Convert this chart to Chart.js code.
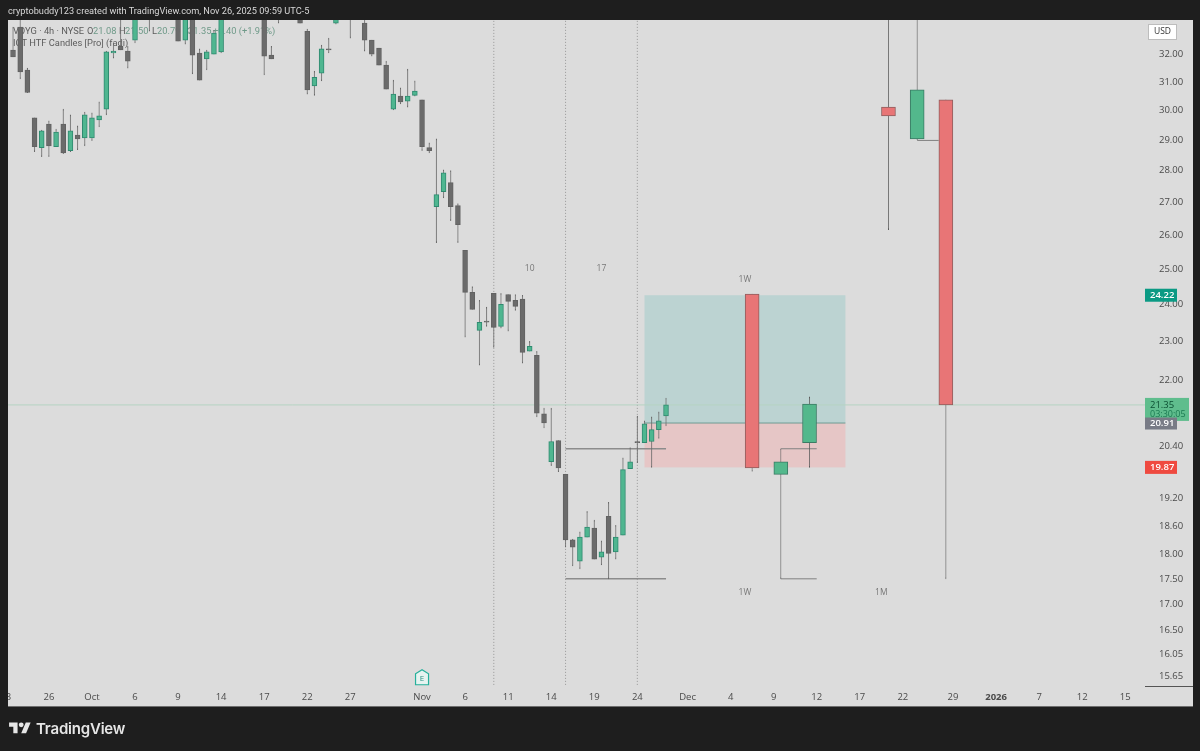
<!DOCTYPE html>
<html>
<head>
<meta charset="utf-8">
<title>VOYG 4h</title>
<script src="https://cdn.jsdelivr.net/npm/chart.js@4"></script>
<style>
    html, body { margin: 0; padding: 0; background: #1e1e1e; width: 1200px; height: 751px; overflow: hidden; }
    canvas { position: absolute; left: 0; top: 0; }
    .frame { position: absolute; background: #1e1e1e; }
    #header { position: absolute; left: 8px; top: 0; height: 20px; color: #d8d8d8; font: 9.2px/22px Roboto, sans-serif; white-space: nowrap; }
    #logo { position: absolute; left: 9px; top: 720px; }
    #brand { position: absolute; left: 36px; top: 718px; color: #e6e6e6; font: 600 15px/22px Inter, sans-serif; letter-spacing: -0.2px; }
</style>
</head>
<body>
<canvas id="chart" width="1200" height="751"></canvas>
<div class="frame" style="left:0;top:0;width:8px;height:751px"></div>
<div id="header">cryptobuddy123 created with TradingView.com, Nov 26, 2025 09:59 UTC-5</div>
<svg id="logo" width="22" height="17" viewBox="0 0 36 28" fill="#e6e6e6">
    <path d="M14 22H7V11H0V4h14v18zM28 22h-8l7.5-18h8L28 22z"/><circle cx="20" cy="8" r="4"/>
</svg>
<div id="brand">TradingView</div>
<script>
// 4h candles, one entry per bar, null = bar sits above the visible range
const opens = [32.11,32.97,31.38,29.70,28.70,29.49,28.73,29.49,28.60,29.12,29.02,29.02,29.63,30.00,32.00,32.25,32.07,32.48,null,33.90,null,null,null,33.70,32.48,33.60,32.00,31.78,31.96,32.04,null,null,null,null,null,33.60,31.92,33.60,null,null,33.70,32.81,30.81,31.27,32.15,33.12,null,33.70,null,33.12,32.48,32.18,31.56,30.00,30.45,30.28,30.48,30.32,28.70,26.82,27.28,27.57,26.85,25.50,24.30,23.26,23.51,24.27,23.37,24.24,24.08,24.11,22.71,22.60,21.13,20.00,20.49,19.71,18.28,17.84,18.34,18.53,17.92,18.78,18.03,18.38,19.84,20.47,20.44,20.47,20.75,21.08];
const highs = [32.97,33.60,31.45,29.70,29.29,29.60,29.32,30.00,29.80,29.43,29.90,29.87,30.25,32.07,32.37,33.50,32.25,33.70,null,34.00,null,null,null,33.90,33.80,33.80,32.15,32.11,32.85,33.80,null,null,null,null,null,33.80,32.25,33.80,null,null,33.90,32.89,31.34,32.29,32.55,33.70,null,33.90,null,33.50,32.48,32.18,31.70,31.02,30.74,31.41,30.99,30.32,28.86,28.99,27.98,27.95,26.91,25.50,24.46,24.08,23.89,24.27,24.27,24.24,24.24,24.22,22.97,22.71,21.27,21.27,20.49,19.71,18.30,18.45,18.89,18.70,18.26,19.09,18.59,20.09,20.33,21.08,20.96,21.06,21.18,21.52];
const lows = [31.86,31.06,30.57,28.57,28.40,28.40,28.73,28.50,28.57,28.63,28.76,28.93,29.39,29.80,31.81,32.11,31.45,32.37,null,32.81,null,null,null,32.44,32.33,31.24,31.02,31.38,31.96,32.00,null,null,null,null,null,31.20,31.78,33.12,null,null,33.12,30.52,30.48,30.99,32.00,33.08,null,32.55,null,32.07,31.88,31.56,30.70,29.97,30.18,30.07,30.45,28.60,28.53,25.73,27.09,26.39,25.73,23.08,23.83,22.35,23.37,22.81,23.32,23.24,23.80,22.40,22.71,21.06,20.79,19.91,19.77,18.13,17.74,17.68,18.34,17.88,17.76,17.48,17.88,18.38,19.84,19.98,20.44,19.87,20.54,20.84];
const closes = [31.86,31.31,30.58,28.73,29.26,28.76,29.22,28.53,29.26,28.99,29.80,29.70,29.77,32.04,32.07,32.11,31.70,33.50,null,33.50,null,null,null,32.44,33.60,31.92,31.02,32.04,32.74,33.60,null,null,null,null,null,31.88,31.78,33.40,null,null,33.12,30.67,31.12,32.15,32.11,33.50,null,33.50,null,32.48,31.96,31.56,30.70,30.52,30.25,30.45,30.63,28.73,28.60,27.19,27.88,26.82,26.27,24.30,23.83,23.48,23.48,23.34,23.97,24.05,23.91,22.68,22.84,21.15,20.91,20.47,19.86,18.28,18.13,18.34,18.55,17.88,18.03,18.00,18.34,19.82,20.00,20.44,20.89,20.75,20.96,21.35];

// higher timeframe candles on the right side
const htfSlots = [103, 107, 111, 122, 126, 130];
const htfOpens = [24.25, 19.71, 20.44, 30.07, 28.99, 30.32];
const htfHighs = [24.25, 20.30, 21.55, 34.00, 34.00, 30.32];
const htfLows = [19.78, 17.48, 19.87, 26.12, 28.96, 17.48];
const htfCloses = [19.86, 20.00, 21.37, 29.77, 30.67, 21.35];

const priceTicks = [32, 31, 30, 29, 28, 27, 26, 25, 24, 23, 22, 20.4, 19.2, 18.6, 18, 17.5, 17, 16.5, 16.05, 15.65];
const timeSlots = [-1, 5, 11, 17, 23, 29, 35, 41, 47, 57, 63, 69, 75, 81, 87, 94, 100, 106, 112, 118, 124, 131, 137, 143, 149, 155];
const timeLabels = ['23', '26', 'Oct', '6', '9', '14', '17', '22', '27', 'Nov', '6', '11', '14', '19', '24', 'Dec', '4', '9', '12', '17', '22', '29', '2026', '7', '12', '15'];

const sessionSlots = [67, 77, 87];
const lastPrice = 21.35;
// [from slot, to slot, price]
const levelFrom = [77, 77, 107, 107, 126];
const levelTo = [91, 91, 112, 112, 129];
const levelPrice = [20.30, 17.48, 20.30, 17.48, 28.94];

const zoneFrom = 88, zoneTo = 116;
const zoneTop = 24.22, zoneMid = 20.91, zoneBottom = 19.87;

const noteTexts = ['10', '17', '1W', '1W', '1M'];
const noteSlots = [72, 82, 102, 102, 121];
const notePrices = [24.97, 24.97, 24.66, 17.20, 17.20];

const tagPrices = [24.22, 20.91, 19.87];
const tagTexts = ['24.22', '20.91', '19.87'];
const tagColors = ['#0b9a84', '#787b86', '#ef4a40'];

const GRAY = '#6b6b6b';
const GREEN = '#4fb690';
const GREEN_EDGE = '#2f8a70';

const slots = opens.map((v, i) => i).filter(i => opens[i] !== null);
const isUp = i => closes[i] >= opens[i];

function segment(from, to, price, color, width) {
    return {
        type: 'line',
        data: [{ x: from, y: price }, { x: to, y: price }],
        borderColor: color,
        borderWidth: width,
        pointRadius: 0,
        order: 5,
    };
}

function candleBars(list, color, edge, thickness, order) {
    return {
        type: 'bar',
        data: list,
        backgroundColor: color,
        borderColor: edge,
        borderWidth: 1,
        borderSkipped: false,
        barThickness: thickness,
        grouped: false,
        order: order,
    };
}

const datasets = [];

sessionSlots.forEach(s => {
    datasets.push({
        type: 'line',
        data: [{ x: s, y: 15 }, { x: s, y: 34 }],
        borderColor: '#979797',
        borderWidth: 1,
        borderDash: [1, 2],
        pointRadius: 0,
        order: 6,
    });
});
datasets.push(segment(-0.7, 157.75, lastPrice, '#b5d4c3', 1));
levelFrom.forEach((f, i) => {
    const faint = i < 2;
    datasets.push(segment(f, levelTo[i], levelPrice[i], faint ? '#8c8c8c' : '#808080', faint ? 1.5 : 1));
});

// wicks first, bodies on top
datasets.push(candleBars(slots.map(i => ({ x: i, y: [lows[i], highs[i]] })), GRAY, GRAY, 0.6, 4));
datasets.push(candleBars(slots.filter(i => !isUp(i)).map(i => ({ x: i, y: [opens[i], closes[i]] })), GRAY, '#626262', 4.9, 3));
datasets.push(candleBars(slots.filter(isUp).map(i => ({ x: i, y: [opens[i], closes[i]] })), GREEN, GREEN_EDGE, 4.9, 3));
datasets.push(candleBars(htfSlots.map((s, i) => ({ x: s, y: [htfLows[i], htfHighs[i]] })), '#5c5c5c', '#5c5c5c', 0.4, 2));
datasets.push(candleBars(htfSlots.map((s, i) => ({ x: s, y: [htfOpens[i], htfCloses[i]] })).filter(b => b.y[1] < b.y[0]), '#e87576', '#8f5f5f', 14, 1));
datasets.push(candleBars(htfSlots.map((s, i) => ({ x: s, y: [htfOpens[i], htfCloses[i]] })).filter(b => b.y[1] >= b.y[0]), '#53b88c', '#3b7b64', 14, 1));

const backdrop = {
    id: 'backdrop',
    beforeDraw(chart) {
        const { ctx, chartArea } = chart;
        ctx.save();
        ctx.fillStyle = '#dcdcdc';
        ctx.fillRect(8, 20, 1185, 687);
        ctx.fillStyle = '#6e6e6e';
        ctx.fillRect(8, 706, 1185, 1);
        ctx.fillStyle = '#555';
        ctx.fillRect(chartArea.right, chartArea.bottom, 48, 1);
        ctx.restore();
    },
    beforeDatasetsDraw(chart) {
        const { ctx, scales: { x, y } } = chart;
        const left = x.getPixelForValue(zoneFrom), right = x.getPixelForValue(zoneTo);
        const top = y.getPixelForValue(zoneTop), mid = y.getPixelForValue(zoneMid), bottom = y.getPixelForValue(zoneBottom);
        ctx.save();
        ctx.fillStyle = '#bcd3d2';
        ctx.fillRect(left, top, right - left, mid - top);
        ctx.fillStyle = '#e6c6c6';
        ctx.fillRect(left, mid, right - left, bottom - mid);
        ctx.fillStyle = '#6f9c93';
        ctx.fillRect(left, mid - 0.5, right - left, 1);

        // status lines sit under the candles
        ctx.textBaseline = 'middle';
        ctx.font = '9.3px Roboto, sans-serif';
        const dark = '#5c5c5c', soft = '#6f9a89';
        const row = [['VOYG · 4h · NYSE', 13, dark], ['O', 87, dark], ['21.08', 93, soft], ['H', 119, dark], ['21.50', 125, soft],
            ['L', 152, dark], ['20.79', 157, soft], ['C', 183, dark], ['21.35', 188, soft], ['+0.40 (+1.91%)', 213, soft]];
        row.forEach(r => {
            ctx.fillStyle = r[2];
            ctx.fillText(r[0], r[1], 32);
        });
        ctx.fillStyle = dark;
        ctx.fillText('ICT HTF Candles [Pro] (fadi)', 13, 44);

        // notes over the zones
        ctx.fillStyle = '#777';
        ctx.font = '8.5px "Open Sans", sans-serif';
        ctx.textAlign = 'center';
        noteTexts.forEach((t, i) => {
            ctx.fillText(t, x.getPixelForValue(noteSlots[i]), y.getPixelForValue(notePrices[i]));
        });
        ctx.restore();
    },
    afterDraw(chart) {
        const { ctx, chartArea, scales: { x, y } } = chart;
        const axisX = chartArea.right;
        ctx.save();
        ctx.textBaseline = 'middle';

        ctx.fillStyle = '#fff';
        ctx.strokeStyle = '#bdbdbd';
        ctx.fillRect(1148, 24, 29, 16);
        ctx.strokeRect(1148.5, 24.5, 28, 15);
        ctx.fillStyle = '#333';
        ctx.font = '8.5px "Open Sans", sans-serif';
        ctx.fillText('USD', 1154, 32);

        ctx.font = '600 9.5px "Open Sans", sans-serif';
        tagPrices.forEach((p, i) => {
            const py = y.getPixelForValue(p);
            ctx.fillStyle = tagColors[i];
            ctx.fillRect(axisX, py - 6.5, 32, 13);
            ctx.fillStyle = '#fff';
            ctx.fillText(tagTexts[i], axisX + 5, py);
        });

        const ly = y.getPixelForValue(lastPrice);
        ctx.fillStyle = '#5fbd8d';
        ctx.fillRect(axisX, ly - 7, 44, 23);
        ctx.fillStyle = '#0c4f33';
        ctx.font = '9.5px "Open Sans", sans-serif';
        ctx.fillText('21.35', axisX + 5, ly);
        ctx.fillStyle = '#1c7a52';
        ctx.font = '9px "Open Sans", sans-serif';
        ctx.fillText('03:30:05', axisX + 5, ly + 10);
        const gy = y.getPixelForValue(tagPrices[1]);
        ctx.fillStyle = tagColors[1];
        ctx.fillRect(axisX, gy - 5.5, 32, 11);
        ctx.fillStyle = '#fff';
        ctx.font = '600 9.5px "Open Sans", sans-serif';
        ctx.fillText(tagTexts[1], axisX + 5, gy);

        // earnings flag
        const ex = x.getPixelForValue(57), ey = y.getPixelForValue(15.6);
        ctx.fillStyle = '#e6f3f0';
        ctx.strokeStyle = '#25b09b';
        ctx.lineWidth = 1.2;
        ctx.beginPath();
        ctx.moveTo(ex - 6.5, ey - 4);
        ctx.lineTo(ex, ey - 8);
        ctx.lineTo(ex + 6.5, ey - 4);
        ctx.lineTo(ex + 6.5, ey + 7);
        ctx.lineTo(ex - 6.5, ey + 7);
        ctx.closePath();
        ctx.fill();
        ctx.stroke();
        ctx.fillStyle = '#2a8f80';
        ctx.font = '8px "Open Sans", sans-serif';
        ctx.textAlign = 'center';
        ctx.fillText('E', ex, ey + 1);
        ctx.restore();
    },
};

new Chart(document.getElementById('chart').getContext('2d'), {
    type: 'bar',
    data: { datasets: datasets },
    plugins: [backdrop],
    options: {
        responsive: false,
        animation: false,
        layout: { padding: { left: 8, top: 20, right: 7, bottom: 44 } },
        plugins: { legend: { display: false }, tooltip: { enabled: false } },
        scales: {
            x: {
                type: 'linear',
                offset: false,
                min: -0.7,
                max: 157.75,
                grid: { display: false, drawTicks: false },
                border: { display: false },
                afterBuildTicks(scale) {
                    scale.ticks = timeSlots.map(v => ({ value: v }));
                },
                afterFit(scale) {
                    scale.height = 21;
                    // first label hangs over the edge, do not let it push the plot
                    scale.paddingLeft = 0;
                    scale.paddingRight = 0;
                },
                ticks: {
                    autoSkip: false,
                    maxRotation: 0,
                    padding: 6,
                    color: '#4a4a4a',
                    font: ctx => ({ family: '"Open Sans", sans-serif', size: 9.5, weight: timeLabels[ctx.index] === '2026' ? 'bold' : 'normal' }),
                    callback: (value, index) => timeLabels[index],
                },
            },
            y: {
                type: 'logarithmic',
                position: 'right',
                min: 15.453,
                max: 33.238,
                grid: { display: false },
                border: { display: false },
                afterBuildTicks(scale) {
                    scale.ticks = priceTicks.map(v => ({ value: v }));
                },
                afterFit(scale) {
                    scale.width = 48;
                },
                ticks: {
                    autoSkip: false,
                    padding: 6,
                    color: '#4a4a4a',
                    // blank first line nudges the text down about 1.5px
                    font: { family: '"Open Sans", sans-serif', size: 9.5, lineHeight: 0.3 },
                    callback: value => ['', value.toFixed(2)],
                },
            },
        },
    },
});
</script>
</body>
</html>
